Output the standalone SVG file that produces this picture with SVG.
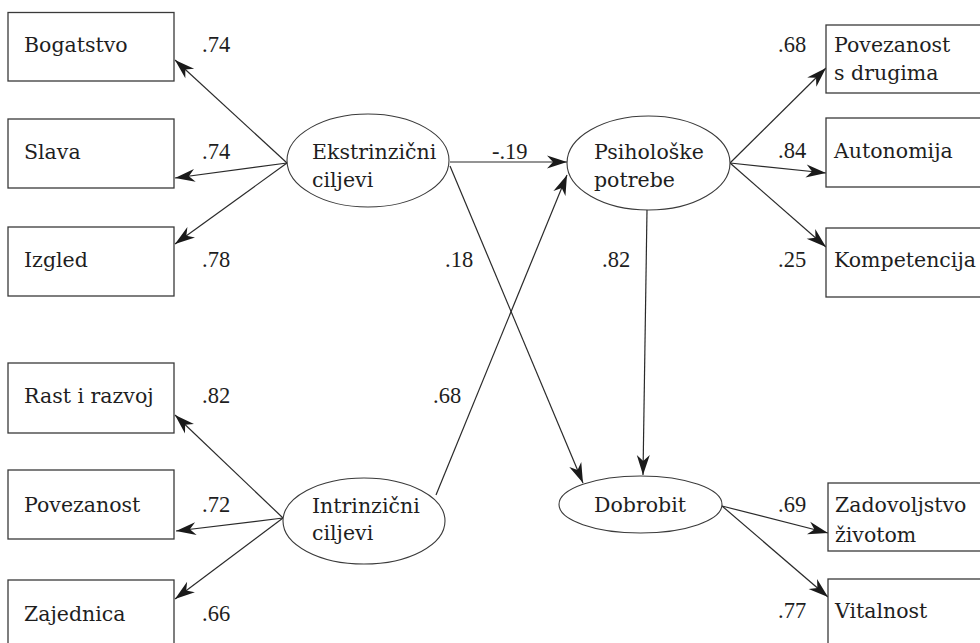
<svg xmlns="http://www.w3.org/2000/svg" width="980" height="643" viewBox="0 0 980 643">
<style>
.box{fill:#fff;stroke:#3a3a3a;stroke-width:1.3}
.ell{fill:#fff;stroke:#3a3a3a;stroke-width:1.1}
.t{font-family:"DejaVu Serif","Liberation Serif",serif;font-size:20.5px;fill:#1e1e1e}
.n{font-family:"Liberation Serif","DejaVu Serif",serif;font-size:22.5px;fill:#1e1e1e}
.c{fill:none;stroke:#2a2a2a;stroke-width:1.2}
</style>
<defs>
<marker id="ah" viewBox="-1 -8 23 16" markerWidth="23" markerHeight="16" refX="20" refY="0" orient="auto" markerUnits="userSpaceOnUse">
<path d="M0,-6.5 L20,0 L0,6.5 L6,0 Z" fill="#1a1a1a"/>
</marker>
</defs>
<rect width="980" height="643" fill="#fff"/>

<g id="connectors">
<line class="c" x1="287" y1="163" x2="175" y2="60" marker-end="url(#ah)"/>
<line class="c" x1="287" y1="163" x2="175" y2="178" marker-end="url(#ah)"/>
<line class="c" x1="287" y1="163" x2="175" y2="244" marker-end="url(#ah)"/>
<line class="c" x1="450" y1="162" x2="567" y2="162" marker-end="url(#ah)"/>
<line class="c" x1="450" y1="166" x2="583" y2="483" marker-end="url(#ah)"/>
<line class="c" x1="283" y1="518" x2="175" y2="415" marker-end="url(#ah)"/>
<line class="c" x1="283" y1="518" x2="176" y2="531" marker-end="url(#ah)"/>
<line class="c" x1="283" y1="518" x2="175" y2="599" marker-end="url(#ah)"/>
<line class="c" x1="436" y1="495" x2="567" y2="175" marker-end="url(#ah)"/>
<line class="c" x1="730" y1="163" x2="826" y2="68" marker-end="url(#ah)"/>
<line class="c" x1="730" y1="163" x2="826" y2="173" marker-end="url(#ah)"/>
<line class="c" x1="730" y1="163" x2="826" y2="247" marker-end="url(#ah)"/>
<line class="c" x1="647" y1="210" x2="643" y2="475" marker-end="url(#ah)"/>
<line class="c" x1="722" y1="506" x2="828" y2="533" marker-end="url(#ah)"/>
<line class="c" x1="722" y1="506" x2="828" y2="597" marker-end="url(#ah)"/>
</g>

<g id="labels">
<text class="n" x="202" y="52">.74</text>
<text class="n" x="202" y="159">.74</text>
<text class="n" x="202" y="267">.78</text>
<text class="n" x="202" y="403">.82</text>
<text class="n" x="202" y="512">.72</text>
<text class="n" x="202" y="621">.66</text>
<text class="n" x="492" y="159">-.19</text>
<text class="n" x="445" y="267">.18</text>
<text class="n" x="602" y="267">.82</text>
<text class="n" x="433" y="403">.68</text>
<text class="n" x="778" y="52">.68</text>
<text class="n" x="778" y="158">.84</text>
<text class="n" x="778" y="267">.25</text>
<text class="n" x="778" y="512">.69</text>
<text class="n" x="778" y="618">.77</text>
</g>

<g id="bogatstvo"><rect class="box" x="8" y="12.5" width="166" height="68.5"/><text class="t" x="24" y="52">Bogatstvo</text></g>
<g id="slava"><rect class="box" x="8" y="119" width="166" height="69"/><text class="t" x="24" y="159">Slava</text></g>
<g id="izgled"><rect class="box" x="8" y="227" width="166" height="69"/><text class="t" x="24" y="267">Izgled</text></g>
<g id="rast"><rect class="box" x="8" y="363" width="166" height="70"/><text class="t" x="24" y="403">Rast i razvoj</text></g>
<g id="povezanost"><rect class="box" x="8" y="470" width="166" height="69"/><text class="t" x="24" y="512">Povezanost</text></g>
<g id="zajednica"><rect class="box" x="8" y="580" width="166" height="75"/><text class="t" x="24" y="621">Zajednica</text></g>

<g id="ekstrinzicni"><ellipse class="ell" cx="368" cy="160.5" rx="81" ry="46.5"/><text class="t" x="312" y="159">Ekstrinzični</text><text class="t" x="312" y="187">ciljevi</text></g>
<g id="intrinzicni"><ellipse class="ell" cx="364" cy="521" rx="81" ry="43"/><text class="t" x="312" y="513">Intrinzični</text><text class="t" x="312" y="540">ciljevi</text></g>
<g id="psiholoske"><ellipse class="ell" cx="648.5" cy="163" rx="81.5" ry="47"/><text class="t" x="594" y="159">Psihološke</text><text class="t" x="594" y="187">potrebe</text></g>
<g id="dobrobit"><ellipse class="ell" cx="640.5" cy="504.5" rx="81.5" ry="28.5"/><text class="t" x="594" y="512">Dobrobit</text></g>

<g id="povezanost-s-drugima"><rect class="box" x="826" y="25" width="170" height="68"/><text class="t" x="834" y="52">Povezanost</text><text class="t" x="834" y="80">s drugima</text></g>
<g id="autonomija"><rect class="box" x="826" y="118" width="170" height="69"/><text class="t" x="834" y="158">Autonomija</text></g>
<g id="kompetencija"><rect class="box" x="826" y="228" width="170" height="69"/><text class="t" x="834" y="267">Kompetencija</text></g>
<g id="zadovoljstvo"><rect class="box" x="828" y="483" width="170" height="68"/><text class="t" x="835" y="512">Zadovoljstvo</text><text class="t" x="835" y="542">životom</text></g>
<g id="vitalnost"><rect class="box" x="828" y="579" width="170" height="75"/><text class="t" x="835" y="618">Vitalnost</text></g>
</svg>
